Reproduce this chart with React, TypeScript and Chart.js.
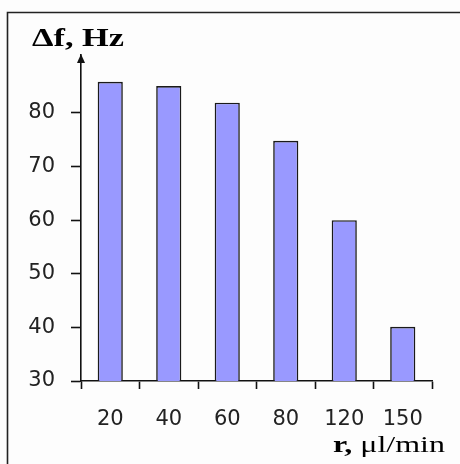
import React, { useEffect, useRef } from "react";
import { Chart, registerables } from "chart.js";

Chart.register(...registerables);

const categories = ["20", "40", "60", "80", "120", "150"];
const shiftValues = [85.8, 85.0, 81.9, 74.8, 60.0, 40.1];
const yTickValues = [30, 40, 50, 60, 70, 80];
const yMin = 30;
const yMax = 90.8;
const yTitle = "Δf, Hz";
const xTitleBold = "r, ";
const xTitleRest = "μl/min";

const decorPlugin = {
  id: "decor",
  beforeDraw(chart: any) {
    const ctx = chart.ctx;
    ctx.save();
    ctx.fillStyle = "#fdfdfd";
    ctx.fillRect(0, 0, chart.width, chart.height);
    ctx.strokeStyle = "#222";
    ctx.lineWidth = 1.6;
    ctx.beginPath();
    ctx.moveTo(7.5, chart.height);
    ctx.lineTo(7.5, 12.5);
    ctx.lineTo(chart.width, 12.5);
    ctx.stroke();
    ctx.restore();
  },
  afterDraw(chart: any) {
    const ctx = chart.ctx;
    const area = chart.chartArea;
    ctx.save();
    // arrow at the top of the y axis
    ctx.fillStyle = "#111";
    ctx.beginPath();
    ctx.moveTo(area.left, area.top - 1);
    ctx.lineTo(area.left - 4, area.top + 8);
    ctx.lineTo(area.left + 4, area.top + 8);
    ctx.closePath();
    ctx.fill();

    // y title
    ctx.fillStyle = "#000";
    ctx.textBaseline = "alphabetic";
    ctx.textAlign = "left";
    ctx.font = "bold 26px 'Liberation Serif', 'Times New Roman', serif";
    const w = ctx.measureText(yTitle).width;
    ctx.save();
    ctx.translate(32, 46);
    ctx.scale(92 / w, 1);
    ctx.fillText(yTitle, 0, 0);
    ctx.restore();

    // x title
    ctx.font = "bold 24px 'Liberation Serif', 'Times New Roman', serif";
    const w1 = ctx.measureText(xTitleBold).width;
    ctx.font = "24px 'Liberation Serif', 'Times New Roman', serif";
    const w2 = ctx.measureText(xTitleRest).width;
    const sx = 112 / (w1 + w2);
    ctx.save();
    ctx.translate(333, 452);
    ctx.scale(sx, 1);
    ctx.font = "bold 24px 'Liberation Serif', 'Times New Roman', serif";
    ctx.fillText(xTitleBold, 0, 0);
    ctx.font = "24px 'Liberation Serif', 'Times New Roman', serif";
    ctx.fillText(xTitleRest, w1, 0);
    ctx.restore();
    ctx.restore();
  },
};

export default function App() {
  const ref = useRef<HTMLCanvasElement | null>(null);
  useEffect(() => {
    document.body.style.margin = "0";
    const canvas = ref.current;
    if (!canvas) return;
    const chart = new Chart(canvas, {
      type: "bar",
      data: {
        labels: categories,
        datasets: [
          {
            data: shiftValues,
            backgroundColor: "#9999ff",
            borderColor: "#1a1a1a",
            borderWidth: 1.6,
            barPercentage: 0.86,
            categoryPercentage: 0.5,
          },
        ],
      },
      options: {
        responsive: false,
        animation: false,
        layout: { padding: { left: 0, right: 28, top: 55, bottom: 0 } },
        plugins: {
          legend: { display: false },
          tooltip: { enabled: false },
          title: { display: false },
        },
        scales: {
          x: {
            grid: {
              display: true,
              drawOnChartArea: false,
              drawTicks: true,
              tickLength: 8,
              tickWidth: 1.6,
              tickColor: "#111",
              offset: true,
            },
            border: { display: true, color: "#111", width: 1.6 },
            ticks: {
              color: "#222",
              font: { family: "'DejaVu Sans', sans-serif", size: 21 },
              padding: 18,
              maxRotation: 0,
            },
            afterFit(scale: any) {
              scale.height = 83;
            },
          },
          y: {
            min: yMin,
            max: yMax,
            grid: {
              display: true,
              drawOnChartArea: false,
              drawTicks: true,
              tickLength: 10,
              tickWidth: 1.6,
              tickColor: "#111",
            },
            border: { display: true, color: "#111", width: 1.6 },
            ticks: {
              color: "#222",
              font: { family: "'DejaVu Sans', sans-serif", size: 21 },
              padding: 16,
            },
            afterBuildTicks(scale: any) {
              scale.ticks = yTickValues.map((v) => ({ value: v }));
            },
            afterFit(scale: any) {
              scale.width = 81;
            },
          },
        },
      },
      plugins: [decorPlugin],
    });
    return () => chart.destroy();
  }, []);
  return (
    <div style={{ width: 460, height: 464 }}>
      <canvas ref={ref} width={460} height={464} />
    </div>
  );
}
